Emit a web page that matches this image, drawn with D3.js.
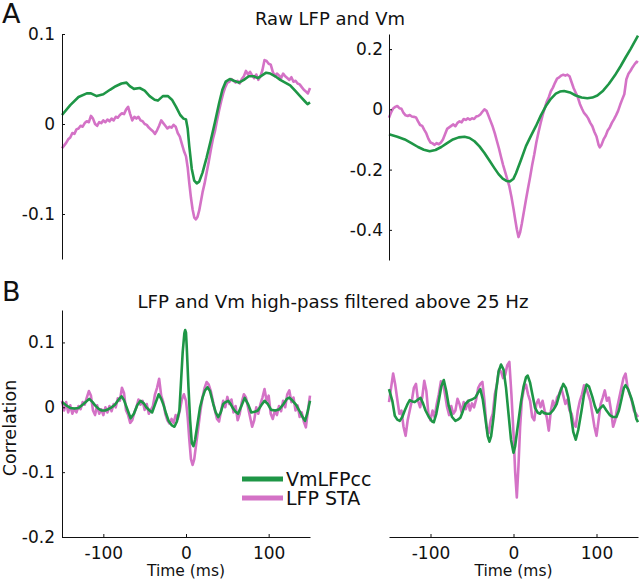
<!DOCTYPE html>
<html><head><meta charset="utf-8">
<script src="https://cdn.jsdelivr.net/npm/d3@7"></script>
<style>
html,body{margin:0;padding:0;background:#fff;}
svg text{font-family:"DejaVu Sans",sans-serif;fill:#111;}
</style></head>
<body><svg id="c" width="640" height="581"></svg>
<script>
// ---------- DATA ----------
const xTicks = [-100, 0, 100];
const yTicksAL = [0.1, 0, -0.1];
const yTicksAR = [0.2, 0, -0.2, -0.4];
const yTicksBL = [0.1, 0, -0.1, -0.2];
const legendLabels = ["VmLFPcc", "LFP STA"];
const titleA = "Raw LFP and Vm";
const titleB = "LFP and Vm high-pass filtered above 25 Hz";

// Panel A left: green = Vm-LFP cc, pink = LFP STA  ([time ms, value])
const aLeftVm = [[-150,0.010],[-140,0.021],[-130,0.030],[-120,0.034],[-115,0.034],[-108,0.031],[-100,0.033],[-92,0.038],[-85,0.042],[-78,0.045],[-72,0.046],[-68,0.042],[-63,0.039],[-56,0.040],[-50,0.037],[-44,0.031],[-38,0.027],[-34,0.026],[-28,0.031],[-22,0.031],[-17,0.027],[-12,0.019],[-7,0.010],[-3,0.006],[0,0.005],[2,-0.005],[4,-0.025],[7,-0.050],[10,-0.063],[13,-0.066],[16,-0.064],[20,-0.054],[25,-0.037],[30,-0.018],[35,0.002],[40,0.023],[44,0.038],[48,0.047],[53,0.050],[58,0.048],[64,0.046],[70,0.049],[76,0.053],[82,0.053],[87,0.051],[92,0.054],[97,0.057],[102,0.056],[108,0.053],[114,0.049],[120,0.046],[126,0.043],[132,0.037],[138,0.031],[144,0.025],[147,0.022],[150,0.024]];
const aLeftLfp = [[-150,-0.027],[-147.5,-0.024],[-145,-0.021],[-142.5,-0.017],[-140,-0.015],[-137.5,-0.010],[-135,-0.011],[-132.5,-0.006],[-130,-0.005],[-127.5,-0.002],[-125,-0.003],[-122.5,0.001],[-120,0.003],[-117.5,0.002],[-115,0.009],[-112.5,0.006],[-110,0.000],[-107.5,-0.002],[-105,0.002],[-102.5,0.001],[-100,0.004],[-97.5,0.002],[-95,0.005],[-92.5,0.003],[-90,0.006],[-87.5,0.004],[-85,0.008],[-82.5,0.007],[-80,0.010],[-77.5,0.012],[-75,0.011],[-72.5,0.016],[-70,0.019],[-67.5,0.011],[-65,0.004],[-62.5,0.008],[-60,0.006],[-57.5,0.008],[-55,0.004],[-52.5,0.003],[-50,0.000],[-47.5,-0.001],[-45,-0.004],[-42.5,-0.006],[-40,-0.008],[-37.5,-0.011],[-35,-0.007],[-32.5,-0.002],[-30,0.004],[-27.5,0.001],[-25,-0.002],[-22.5,-0.005],[-20,-0.003],[-17.5,-0.004],[-15,-0.001],[-12.5,-0.003],[-10,-0.010],[-7.5,-0.014],[-5,-0.022],[-2.5,-0.030],[0,-0.036],[2,-0.048],[4,-0.066],[6,-0.082],[8,-0.095],[10,-0.104],[12,-0.106],[14,-0.103],[16,-0.096],[18,-0.086],[20,-0.076],[22.5,-0.066],[25,-0.054],[27.5,-0.042],[30,-0.029],[32.5,-0.017],[35,-0.008],[37.5,0.004],[40,0.015],[42.5,0.025],[45,0.034],[47.5,0.041],[50,0.046],[52.5,0.047],[55,0.050],[57.5,0.048],[60,0.046],[62.5,0.048],[65,0.045],[67.5,0.050],[70,0.053],[72.5,0.059],[75,0.055],[77.5,0.058],[80,0.054],[82.5,0.051],[85,0.055],[87.5,0.049],[90,0.053],[92.5,0.060],[95,0.071],[97.5,0.070],[100,0.067],[102.5,0.066],[105,0.058],[107.5,0.053],[110,0.056],[112.5,0.054],[115,0.051],[117.5,0.056],[120,0.053],[122.5,0.051],[125,0.049],[127.5,0.052],[130,0.047],[132.5,0.048],[135,0.045],[137.5,0.044],[140,0.041],[142.5,0.038],[145,0.036],[147.5,0.034],[150,0.040]];

// Panel A right
const aRightVm = [[-150,-0.083],[-140,-0.091],[-131,-0.100],[-123,-0.112],[-115,-0.125],[-108,-0.134],[-101,-0.139],[-94,-0.135],[-87,-0.125],[-80,-0.112],[-73,-0.100],[-66,-0.093],[-59,-0.091],[-53,-0.095],[-47,-0.106],[-41,-0.123],[-35,-0.145],[-29,-0.170],[-23,-0.195],[-18,-0.215],[-13,-0.230],[-8,-0.238],[-4,-0.239],[0,-0.230],[3,-0.212],[9,-0.168],[15,-0.122],[21,-0.088],[27,-0.056],[33,-0.020],[39,0.011],[45,0.035],[51,0.052],[56,0.059],[61,0.061],[68,0.056],[75,0.046],[82,0.039],[89,0.037],[95,0.039],[101,0.046],[108,0.062],[115,0.085],[122,0.112],[129,0.143],[135,0.172],[141,0.200],[146,0.225],[150,0.245]];
const aRightLfp = [[-150,-0.028],[-147.5,-0.010],[-145,0.003],[-142.5,0.008],[-140,0.011],[-137.5,0.004],[-135,0.002],[-132.5,-0.012],[-130,-0.020],[-127.5,-0.022],[-125,-0.019],[-122.5,-0.024],[-120,-0.025],[-117.5,-0.027],[-115,-0.040],[-112.5,-0.052],[-110,-0.055],[-107.5,-0.068],[-105,-0.080],[-102.5,-0.098],[-100,-0.110],[-97.5,-0.113],[-95,-0.118],[-92.5,-0.112],[-90,-0.116],[-87.5,-0.110],[-85,-0.100],[-82.5,-0.083],[-80,-0.065],[-77.5,-0.060],[-75,-0.055],[-72.5,-0.050],[-70,-0.056],[-67.5,-0.045],[-65,-0.040],[-62.5,-0.043],[-60,-0.032],[-57.5,-0.035],[-55,-0.030],[-52.5,-0.034],[-50,-0.030],[-47.5,-0.032],[-45,-0.024],[-42.5,-0.022],[-40,-0.017],[-37.5,-0.008],[-35,0.000],[-32.5,-0.005],[-30,-0.022],[-27.5,-0.040],[-25,-0.058],[-22.5,-0.080],[-20,-0.105],[-17.5,-0.130],[-15,-0.158],[-12.5,-0.185],[-10,-0.208],[-7.5,-0.232],[-5,-0.256],[-2.5,-0.290],[0,-0.330],[2,-0.365],[4,-0.398],[6,-0.424],[8,-0.408],[10,-0.380],[12.5,-0.340],[15,-0.300],[17.5,-0.262],[20,-0.225],[22.5,-0.185],[25,-0.150],[27.5,-0.110],[30,-0.078],[32.5,-0.048],[35,-0.020],[37.5,0.003],[40,0.025],[42.5,0.040],[45,0.060],[47.5,0.072],[50,0.088],[52.5,0.102],[55,0.106],[57.5,0.112],[60,0.115],[62.5,0.112],[65,0.115],[67.5,0.110],[70,0.090],[72.5,0.070],[75,0.055],[77.5,0.040],[80,0.018],[82.5,0.002],[85,-0.012],[87.5,-0.020],[90,-0.030],[92.5,-0.045],[95,-0.056],[97.5,-0.075],[100,-0.090],[102.5,-0.118],[104,-0.126],[106,-0.118],[108.5,-0.100],[111,-0.088],[113.5,-0.070],[116,-0.060],[118.5,-0.045],[121,-0.033],[123.5,-0.020],[126,-0.005],[128.5,0.015],[131,0.033],[133.5,0.050],[136,0.100],[138.5,0.118],[141,0.128],[143.5,0.140],[146,0.150],[148.5,0.158],[150,0.155]];

// Panel B left (high-pass filtered)
const bLeftVm = [[-150,0.008],[-145,0.003],[-140,-0.001],[-135,-0.002],[-130,-0.001],[-124,0.005],[-117,0.013],[-113,0.008],[-110,0.003],[-106,-0.002],[-102,-0.005],[-98,-0.005],[-94,-0.003],[-90,0.000],[-86,0.004],[-82,0.011],[-78,0.017],[-75,0.011],[-71,-0.003],[-67,-0.017],[-63,-0.010],[-59,0.003],[-55,0.010],[-51,0.006],[-48,0.000],[-44,-0.005],[-41,-0.008],[-37,0.006],[-33,0.020],[-30,0.013],[-27,0.003],[-24,-0.010],[-21,-0.021],[-17,-0.028],[-14,-0.030],[-11,-0.022],[-8,-0.005],[-6,0.040],[-4,0.085],[-2,0.114],[-1,0.119],[0,0.115],[1,0.090],[3,0.031],[5,-0.020],[7,-0.055],[9,-0.060],[11,-0.050],[14,-0.025],[17,0.000],[20,0.015],[23,0.026],[26,0.031],[29,0.025],[33,0.005],[36,-0.008],[39,-0.015],[42,-0.008],[45,0.005],[48,0.008],[51,0.010],[54,0.005],[57,-0.002],[60,-0.007],[63,-0.010],[67,0.002],[71,0.0145],[75,0.005],[79,-0.008],[83,-0.007],[87,-0.005],[91,0.003],[95,0.010],[99,0.005],[103,-0.004],[108,-0.005],[113,-0.003],[118,0.005],[122,0.013],[125,0.015],[129,0.010],[133,0.004],[137,-0.005],[141,-0.015],[144,-0.021],[147,-0.008],[150,0.010]];
const bLeftLfp = [[-150,0.010],[-147.5,-0.005],[-145,0.008],[-142.5,-0.008],[-140,0.003],[-137.5,-0.010],[-135,-0.002],[-132.5,-0.008],[-130,0.002],[-127.5,-0.003],[-125,0.008],[-122.5,0.004],[-120,0.015],[-117.5,0.025],[-115,0.018],[-112.5,-0.005],[-110,-0.012],[-107.5,0.003],[-105,-0.010],[-102.5,-0.003],[-100,-0.012],[-97.5,0.000],[-95,-0.008],[-92.5,0.002],[-90,-0.006],[-87.5,0.005],[-85,0.000],[-82.5,0.014],[-80,0.010],[-77.5,0.030],[-75,0.022],[-72.5,-0.005],[-70,-0.012],[-67.5,-0.024],[-65,-0.020],[-62.5,-0.008],[-60,0.000],[-57.5,0.012],[-55,0.004],[-52.5,0.010],[-50,-0.004],[-47.5,0.005],[-45,-0.010],[-42.5,-0.004],[-40,0.002],[-37.5,0.020],[-35,0.030],[-32.5,0.044],[-30,0.018],[-27.5,0.008],[-25,-0.010],[-22.5,-0.020],[-20,-0.025],[-17.5,-0.018],[-15,-0.024],[-12.5,-0.012],[-10,-0.018],[-7.5,-0.005],[-5,0.012],[-2.5,0.020],[0,0.010],[2,-0.015],[4,-0.050],[6,-0.080],[8,-0.089],[10,-0.080],[12.5,-0.055],[15,-0.030],[17.5,-0.005],[20,0.015],[22.5,0.030],[25,0.039],[27.5,0.035],[30,0.025],[32.5,0.010],[35,-0.005],[37.5,-0.018],[40,-0.022],[42.5,-0.005],[45,0.010],[47.5,0.000],[50,0.016],[52.5,0.005],[55,0.012],[57.5,-0.008],[60,0.002],[62.5,-0.020],[65,-0.010],[67.5,0.008],[70,0.020],[72.5,0.015],[75,0.000],[77.5,-0.015],[80,-0.030],[82.5,-0.020],[85,0.000],[87.5,-0.010],[90,0.005],[92.5,0.015],[95,0.028],[97.5,0.010],[100,0.018],[102.5,-0.010],[105,-0.018],[107.5,-0.005],[110,-0.012],[112.5,0.002],[115,-0.006],[117.5,0.010],[120,0.000],[122.5,0.020],[125,0.026],[127.5,0.008],[130,0.015],[132.5,-0.005],[135,0.003],[137.5,-0.015],[140,-0.008],[142.5,-0.022],[145,-0.031],[147.5,-0.005],[150,0.018]];

// Panel B right
const bRightVm = [[-150,0.028],[-146,0.010],[-143,-0.013],[-140,-0.019],[-137,-0.021],[-134,-0.015],[-131,-0.005],[-128,0.004],[-125,0.011],[-122,0.009],[-119,0.008],[-116,0.011],[-112,0.0145],[-109,0.006],[-106,-0.005],[-102,-0.015],[-98,-0.022],[-96,-0.023],[-93,-0.010],[-90,0.010],[-87,0.032],[-84,0.042],[-81,0.025],[-78,0.002],[-74,-0.015],[-70,-0.021],[-67,-0.019],[-64,-0.016],[-61,-0.006],[-58,0.005],[-54,0.010],[-50,0.012],[-46,0.015],[-43,0.022],[-40,0.028],[-37,0.012],[-34,-0.016],[-31,-0.045],[-29,-0.053],[-27,-0.045],[-24,-0.015],[-21,0.025],[-18,0.055],[-15,0.066],[-12,0.058],[-9,0.030],[-6,-0.010],[-3,-0.050],[0,-0.070],[2,-0.060],[4,-0.040],[6,-0.021],[9,0.008],[12,0.031],[15,0.046],[17,0.049],[20,0.038],[23,0.018],[26,-0.001],[29,-0.008],[32,-0.010],[34,-0.006],[37,-0.009],[40,-0.010],[44,-0.010],[48,-0.004],[52,0.005],[56,0.023],[60,0.036],[63,0.030],[66,0.015],[69,-0.010],[72,-0.038],[75,-0.050],[78,-0.035],[82,-0.005],[85,0.020],[88,0.035],[91,0.032],[95,0.016],[98,0.002],[101,-0.008],[104,-0.002],[108,0.003],[112,-0.005],[116,-0.012],[120,-0.015],[124,-0.015],[127,-0.005],[130,0.012],[133,0.030],[135,0.034],[138,0.028],[142,0.014],[145,0.000],[148,-0.018],[150,-0.023]];
const bRightLfp = [[-150,0.008],[-147.5,0.030],[-145,0.052],[-142.5,0.035],[-140,0.012],[-137.5,-0.010],[-135,-0.005],[-132.5,-0.030],[-130,-0.044],[-127.5,-0.020],[-125,-0.005],[-122.5,0.010],[-120,0.030],[-117.5,0.036],[-115,0.010],[-112.5,0.000],[-110,0.015],[-107.5,0.041],[-105,0.025],[-102.5,-0.010],[-100,-0.020],[-97.5,-0.005],[-95,-0.015],[-92.5,0.005],[-90,0.020],[-87.5,0.040],[-85,0.038],[-82.5,0.020],[-80,0.000],[-77.5,-0.012],[-75,0.002],[-72.5,-0.010],[-70,-0.005],[-67.5,0.013],[-65,0.005],[-62.5,-0.008],[-60,0.008],[-57.5,-0.003],[-55,0.010],[-52.5,-0.005],[-50,0.006],[-47.5,0.000],[-45,0.012],[-42.5,0.030],[-40,0.036],[-37.5,0.039],[-35,0.010],[-32.5,-0.030],[-30,-0.040],[-27.5,-0.020],[-25,-0.010],[-22.5,0.020],[-20,0.035],[-17.5,0.058],[-15,0.055],[-12.5,0.045],[-10,0.050],[-7.5,0.065],[-5,0.070],[-2.5,0.020],[0,-0.040],[2,-0.100],[4,-0.139],[6,-0.090],[8,-0.030],[10,0.010],[12.5,0.028],[15,0.035],[17.5,0.020],[20,0.010],[22.5,-0.015],[25,-0.020],[27.5,0.005],[30,0.012],[32.5,0.000],[35,0.010],[37.5,-0.005],[40,-0.015],[42.5,-0.036],[45,-0.005],[47.5,0.010],[50,0.000],[52.5,0.015],[55,0.020],[57.5,0.030],[60,0.018],[62.5,0.005],[65,0.012],[67.5,-0.005],[70,-0.010],[72.5,-0.025],[75,-0.030],[77.5,-0.005],[80,0.010],[82.5,0.020],[85,0.034],[87.5,0.030],[90,0.020],[92.5,0.010],[95,-0.010],[97.5,-0.030],[100,-0.044],[102.5,-0.020],[105,0.005],[107.5,0.015],[110,0.026],[112.5,0.010],[115,0.015],[117.5,-0.005],[120,-0.030],[122.5,-0.020],[125,0.000],[127.5,0.015],[130,0.030],[132.5,0.045],[135,0.052],[137.5,0.030],[140,0.020],[142.5,0.010],[145,-0.005],[147.5,-0.010],[150,-0.015]];

// ---------- DRAW ----------
const GREEN = "#1e9646", PINK = "#d472c6";
const FONT = '"DejaVu Sans",sans-serif';
const svg = d3.select("#c");

function panel(o) {
  const x = d3.scaleLinear().domain([-150, 150]).range(o.xr);
  const y = d3.scaleLinear().domain(o.yd).range(o.yr);
  const g = svg.append("g");
  const line = d3.line().x(d => x(d[0])).y(d => y(d[1])).curve(d3.curveLinear);
  g.append("path").datum(o.lfp).attr("d", line).attr("fill", "none")
    .attr("stroke", PINK).attr("stroke-width", 2.6).attr("stroke-linejoin", "round");
  g.append("path").datum(o.vm).attr("d", line).attr("fill", "none")
    .attr("stroke", GREEN).attr("stroke-width", 2.6).attr("stroke-linejoin", "round");
  if (o.yTicks) {
    const ya = g.append("g").attr("transform", `translate(${o.xr[0]},0)`)
      .call(d3.axisLeft(y).tickValues(o.yTicks).tickFormat(d => String(d))
        .tickSizeInner(-3).tickSizeOuter(0).tickPadding(o.pad || 7));
    ya.selectAll("text").attr("font-size", 17).attr("font-family", FONT).attr("fill", "#111");
    ya.selectAll("line,path").attr("stroke", "#111");
  }
  if (o.xAxisY !== undefined) {
    const xa = g.append("g").attr("transform", `translate(0,${o.xAxisY})`)
      .call(d3.axisBottom(x).tickValues(xTicks).tickFormat(d => String(d))
        .tickSizeInner(-3).tickSizeOuter(0).tickPadding(10));
    xa.selectAll("text").attr("font-size", 17).attr("font-family", FONT).attr("fill", "#111");
    xa.selectAll("line,path").attr("stroke", "#111");
    svg.append("text").attr("x", x(0)).attr("y", 576).attr("text-anchor", "middle")
      .attr("font-size", 15.5).text("Time (ms)");
  }
  return {x, y};
}

panel({xr: [62, 310], yd: [0.1, -0.15], yr: [34, 259], yTicks: yTicksAL, vm: aLeftVm, lfp: aLeftLfp});
panel({xr: [389, 638], yd: [0.25, -0.5], yr: [34, 260], yTicks: yTicksAR, vm: aRightVm, lfp: aRightLfp, pad: 6});
panel({xr: [62, 310], yd: [-0.2, 0.15], yr: [537, 310], yTicks: yTicksBL, vm: bLeftVm, lfp: bLeftLfp, xAxisY: 537});
panel({xr: [389, 638], yd: [-0.2, 0.15], yr: [537, 310], vm: bRightVm, lfp: bRightLfp, xAxisY: 537});

// titles & panel letters
svg.append("text").attr("x", 330).attr("y", 25).attr("text-anchor", "middle").attr("font-size", 18).text(titleA);
svg.append("text").attr("x", 333).attr("y", 308).attr("text-anchor", "middle").attr("font-size", 18.2).text(titleB);
svg.append("text").attr("x", 2).attr("y", 23).attr("font-size", 27).text("A");
svg.append("text").attr("x", 2).attr("y", 301).attr("font-size", 27).text("B");
svg.append("text").attr("transform", "translate(16,428) rotate(-90)").attr("text-anchor", "middle")
  .attr("font-size", 17.5).text("Correlation");

// legend
const legColors = [GREEN, PINK];
const leg = svg.append("g");
legendLabels.forEach((lab, i) => {
  const yy = 479 + i * 19;
  leg.append("line").attr("x1", 242).attr("x2", 283).attr("y1", yy).attr("y2", yy)
    .attr("stroke", legColors[i]).attr("stroke-width", 5);
  leg.append("text").attr("x", 286).attr("y", yy + 7).attr("font-size", 19).text(lab);
});
</script></body></html>
